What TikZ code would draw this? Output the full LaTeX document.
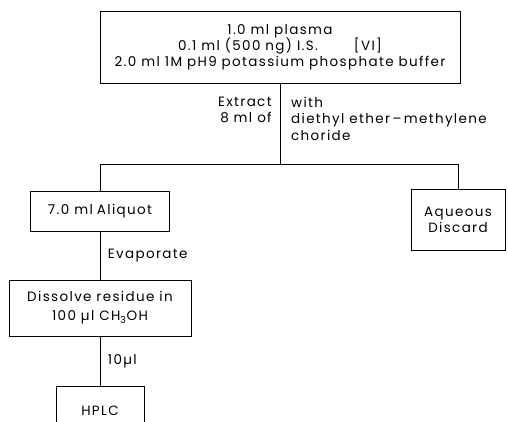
\documentclass[tikz,border=0pt]{standalone}
\usepackage{fontspec}
\setmainfont{Poppins}[LetterSpace=10]
\usepackage{tikz}
\usetikzlibrary{positioning, calc}

\begin{document}
\begin{tikzpicture}[line width=0.6pt, every node/.style={font=\fontsize{9.6}{11.5}\selectfont},
    procbox/.style={draw, rectangle, line width=0.7pt, align=center, inner sep=0pt}]
    \useasboundingbox (0,0) rectangle (12.7,-10.525);
    % Procedure Boxes
    \node [procbox, minimum width=9cm, minimum height=1.8cm] (sample) at (7.0,-1.175) {1.0 ml plasma\\0.1 ml (500 ng) I.S.\hspace{0.9cm}[VI]\\2.0 ml 1M pH9 potassium phosphate buffer};
    \node [procbox, minimum width=3.475cm, minimum height=1.0cm] (aliquot) at (2.5,-5.275) {7.0 ml\hspace{0.3em}Aliquot};
    \node [procbox, minimum width=2.35cm, minimum height=1.525cm] (aqueous) at (11.45,-5.49) {Aqueous\\Discard};
    \node [procbox, minimum width=4.55cm, minimum height=1.4cm] (dissolve) at (2.5,-7.7) {Dissolve residue in\\[2pt]100 µl CH\textsubscript{3}OH};
    \node [procbox, minimum width=2.2cm, text height=0.72cm, text depth=0.35cm, anchor=north] (hplc) at (2.5,-9.65) {HPLC};

    % Extraction Step
    \coordinate (split) at ($(sample.south)+(0,-2.025)$);
    \draw (sample.south) -- (split);
    \draw (aliquot.north) |- (split) -| (aqueous.north);
    \node [anchor=north east, align=right] (extract) at ($(sample.south)+(-0.08,-0.22)$) {Extract\\8 ml of};
    \node [anchor=north west, align=left] (solvent) at ($(sample.south)+(0.15,-0.22)$) {with\\diethyl ether\,--\,methylene\\choride};

    % Work-up Steps
    \draw (aliquot) -- node [right=2pt] {Evaporate} (dissolve);
    \draw (dissolve) -- node [right=2pt] {10µl} (hplc);
\end{tikzpicture}
\end{document}
